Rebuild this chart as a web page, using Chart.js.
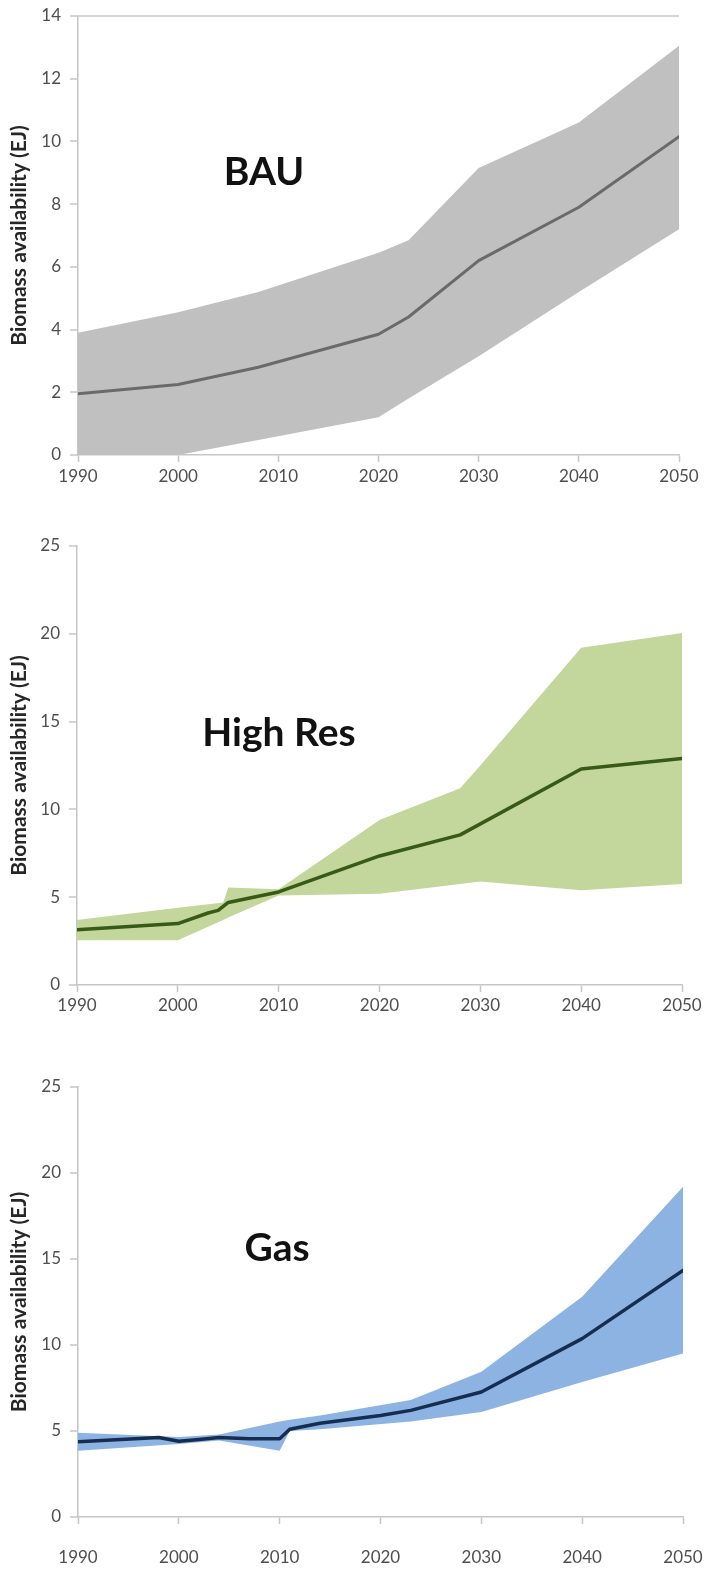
<!DOCTYPE html>
<html>
<head>
<meta charset="utf-8">
<script src="https://cdn.jsdelivr.net/npm/chart.js@4/dist/chart.umd.min.js"></script>
<style>
  html, body { margin: 0; padding: 0; background: #ffffff; }
  body { width: 708px; height: 1575px; position: relative; overflow: hidden; }
  canvas { position: absolute; left: 0; }
  .scenario {
    position: absolute;
    transform: translate(-50%, -50%);
    font-family: "Lato", "Open Sans", sans-serif;
    font-weight: bold;
    font-size: 39px;
    color: #111111;
    white-space: nowrap;
    line-height: 1;
  }
</style>
</head>
<body>
<canvas id="bau" width="708" height="500" style="top:0px"></canvas>
<canvas id="highres" width="708" height="520" style="top:520px"></canvas>
<canvas id="gas" width="708" height="530" style="top:1045px"></canvas>
<div class="scenario" style="left:264px; top:170px">BAU</div>
<div class="scenario" style="left:279px; top:731px">High Res</div>
<div class="scenario" style="left:277px; top:1246px">Gas</div>
<script>
// Year ticks shared by all three panels
const yearTicks = [1990, 2000, 2010, 2020, 2030, 2040, 2050];
const yTitle = 'Biomass availability (EJ)';

// BAU scenario (EJ)
const bauBandYears = [1990, 2000, 2008, 2020, 2023, 2030, 2040, 2050];
const bauUpper     = [3.9, 4.55, 5.2, 6.45, 6.85, 9.15, 10.6, 13.05];
const bauLower     = [0, 0, 0.48, 1.2, 1.8, 3.15, 5.2, 7.2];
const bauMeanYears = [1990, 2000, 2008, 2020, 2023, 2030, 2040, 2050];
const bauMean      = [1.95, 2.25, 2.8, 3.85, 4.4, 6.2, 7.9, 10.15];

// High Res scenario (EJ)
const hrBandYears = [1990, 2000, 2004.5, 2005, 2010, 2020, 2028, 2030, 2040, 2050];
const hrUpper     = [3.7, 4.4, 4.7, 5.55, 5.45, 9.4, 11.2, 12.5, 19.2, 20.05];
const hrLower     = [2.55, 2.55, 3.7, 3.85, 5.1, 5.2, 5.75, 5.9, 5.4, 5.75];
const hrMeanYears = [1990, 2000, 2003, 2004, 2005, 2010, 2020, 2028, 2040, 2050];
const hrMean      = [3.15, 3.5, 4.1, 4.25, 4.7, 5.3, 7.35, 8.55, 12.3, 12.9];

// Gas scenario (EJ)
const gasBandYears = [1990, 2000, 2004, 2010, 2011, 2014, 2023, 2030, 2040, 2050];
const gasUpper     = [4.9, 4.65, 4.8, 5.55, 5.65, 5.9, 6.8, 8.45, 12.8, 19.2];
const gasLower     = [3.85, 4.25, 4.45, 3.85, 5.0, 5.1, 5.55, 6.1, 7.85, 9.5];
const gasMeanYears = [1990, 1998, 2000, 2002, 2004, 2007, 2010, 2011, 2014, 2020, 2023, 2030, 2040, 2050];
const gasMean      = [4.38, 4.62, 4.4, 4.5, 4.62, 4.55, 4.55, 5.1, 5.45, 5.9, 6.2, 7.27, 10.37, 14.34];

const axisColor = '#c6c6c6';
const tickFont = { family: 'Lato, "Open Sans", sans-serif', size: 17 };
const tickColor = '#4f4f4f';

function pts(xs, ys) {
  return xs.map((x, i) => ({ x: x, y: ys[i] }));
}

function panel(id, p) {
  return new Chart(document.getElementById(id), {
    type: 'line',
    data: {
      datasets: [
        { // central estimate, drawn on top
          data: pts(p.meanYears, p.mean),
          borderColor: p.lineColor,
          borderWidth: p.lineWidth,
          fill: false
        },
        { // upper bound, filled down to the lower bound
          data: pts(p.bandYears, p.upper),
          borderWidth: 0,
          borderColor: 'rgba(0,0,0,0)',
          backgroundColor: p.bandColor,
          fill: '+1'
        },
        { // lower bound
          data: pts(p.bandYears, p.lower),
          borderWidth: 0,
          borderColor: 'rgba(0,0,0,0)',
          fill: false
        }
      ]
    },
    options: {
      responsive: false,
      animation: false,
      devicePixelRatio: 1,
      layout: {
        autoPadding: false,
        padding: { top: p.padTop, right: p.padRight, left: 0, bottom: 0 }
      },
      plugins: { legend: { display: false }, tooltip: { enabled: false } },
      elements: { point: { radius: 0 }, line: { tension: 0, borderJoinStyle: 'round', borderCapStyle: 'round' } },
      scales: {
        x: {
          type: 'linear',
          min: yearTicks[0],
          max: yearTicks[yearTicks.length - 1],
          afterBuildTicks: s => { s.ticks = yearTicks.map(v => ({ value: v })); },
          ticks: {
            callback: v => String(v),
            color: tickColor, font: tickFont, padding: p.xLabelPad,
            maxRotation: 0, autoSkip: false
          },
          grid: { drawOnChartArea: false, tickLength: 7, tickColor: axisColor, tickWidth: 1.5 },
          border: { color: axisColor, width: 1.5 },
          afterFit: s => {
            s.height = p.xHeight;
            // the outer padding already leaves room for the end labels
            s.paddingLeft = 0;
            s.paddingRight = 0;
          }
        },
        y: {
          min: 0,
          max: p.yMax,
          ticks: { stepSize: p.yStep, color: tickColor, font: tickFont, padding: 9 },
          grid: {
            drawOnChartArea: p.topLine,
            color: c => (c.tick && c.tick.value === p.yMax) ? '#d4d4d4' : 'rgba(0,0,0,0)',
            lineWidth: 2,
            tickLength: 8, tickColor: axisColor, tickWidth: 1.5
          },
          border: { color: axisColor, width: 1.5 },
          title: {
            display: true, text: yTitle, color: '#262626',
            font: { family: 'Lato, "Open Sans", sans-serif', size: 21, weight: 'bold' },
            padding: { top: 7, bottom: 0 }
          },
          afterFit: s => {
            s.width = p.yWidth;
            s.paddingTop = 0;
            s.paddingBottom = 0;
          }
        }
      }
    }
  });
}

panel('bau', {
  bandYears: bauBandYears, upper: bauUpper, lower: bauLower,
  meanYears: bauMeanYears, mean: bauMean,
  lineColor: '#6a6a6a', lineWidth: 3, bandColor: '#c0c0c0',
  yMax: 14, yStep: 2, topLine: true,
  padTop: 16, padRight: 29, yWidth: 78, xHeight: 45, xLabelPad: 4
});

panel('highres', {
  bandYears: hrBandYears, upper: hrUpper, lower: hrLower,
  meanYears: hrMeanYears, mean: hrMean,
  lineColor: '#375a17', lineWidth: 3.5, bandColor: '#c3d69b',
  yMax: 25, yStep: 5, topLine: false,
  padTop: 26, padRight: 26, yWidth: 77, xHeight: 55, xLabelPad: 3
});

panel('gas', {
  bandYears: gasBandYears, upper: gasUpper, lower: gasLower,
  meanYears: gasMeanYears, mean: gasMean,
  lineColor: '#152d50', lineWidth: 3.5, bandColor: '#8db3e2',
  yMax: 25, yStep: 5, topLine: false,
  padTop: 42, padRight: 25, yWidth: 78, xHeight: 58, xLabelPad: 23
});
</script>
</body>
</html>
